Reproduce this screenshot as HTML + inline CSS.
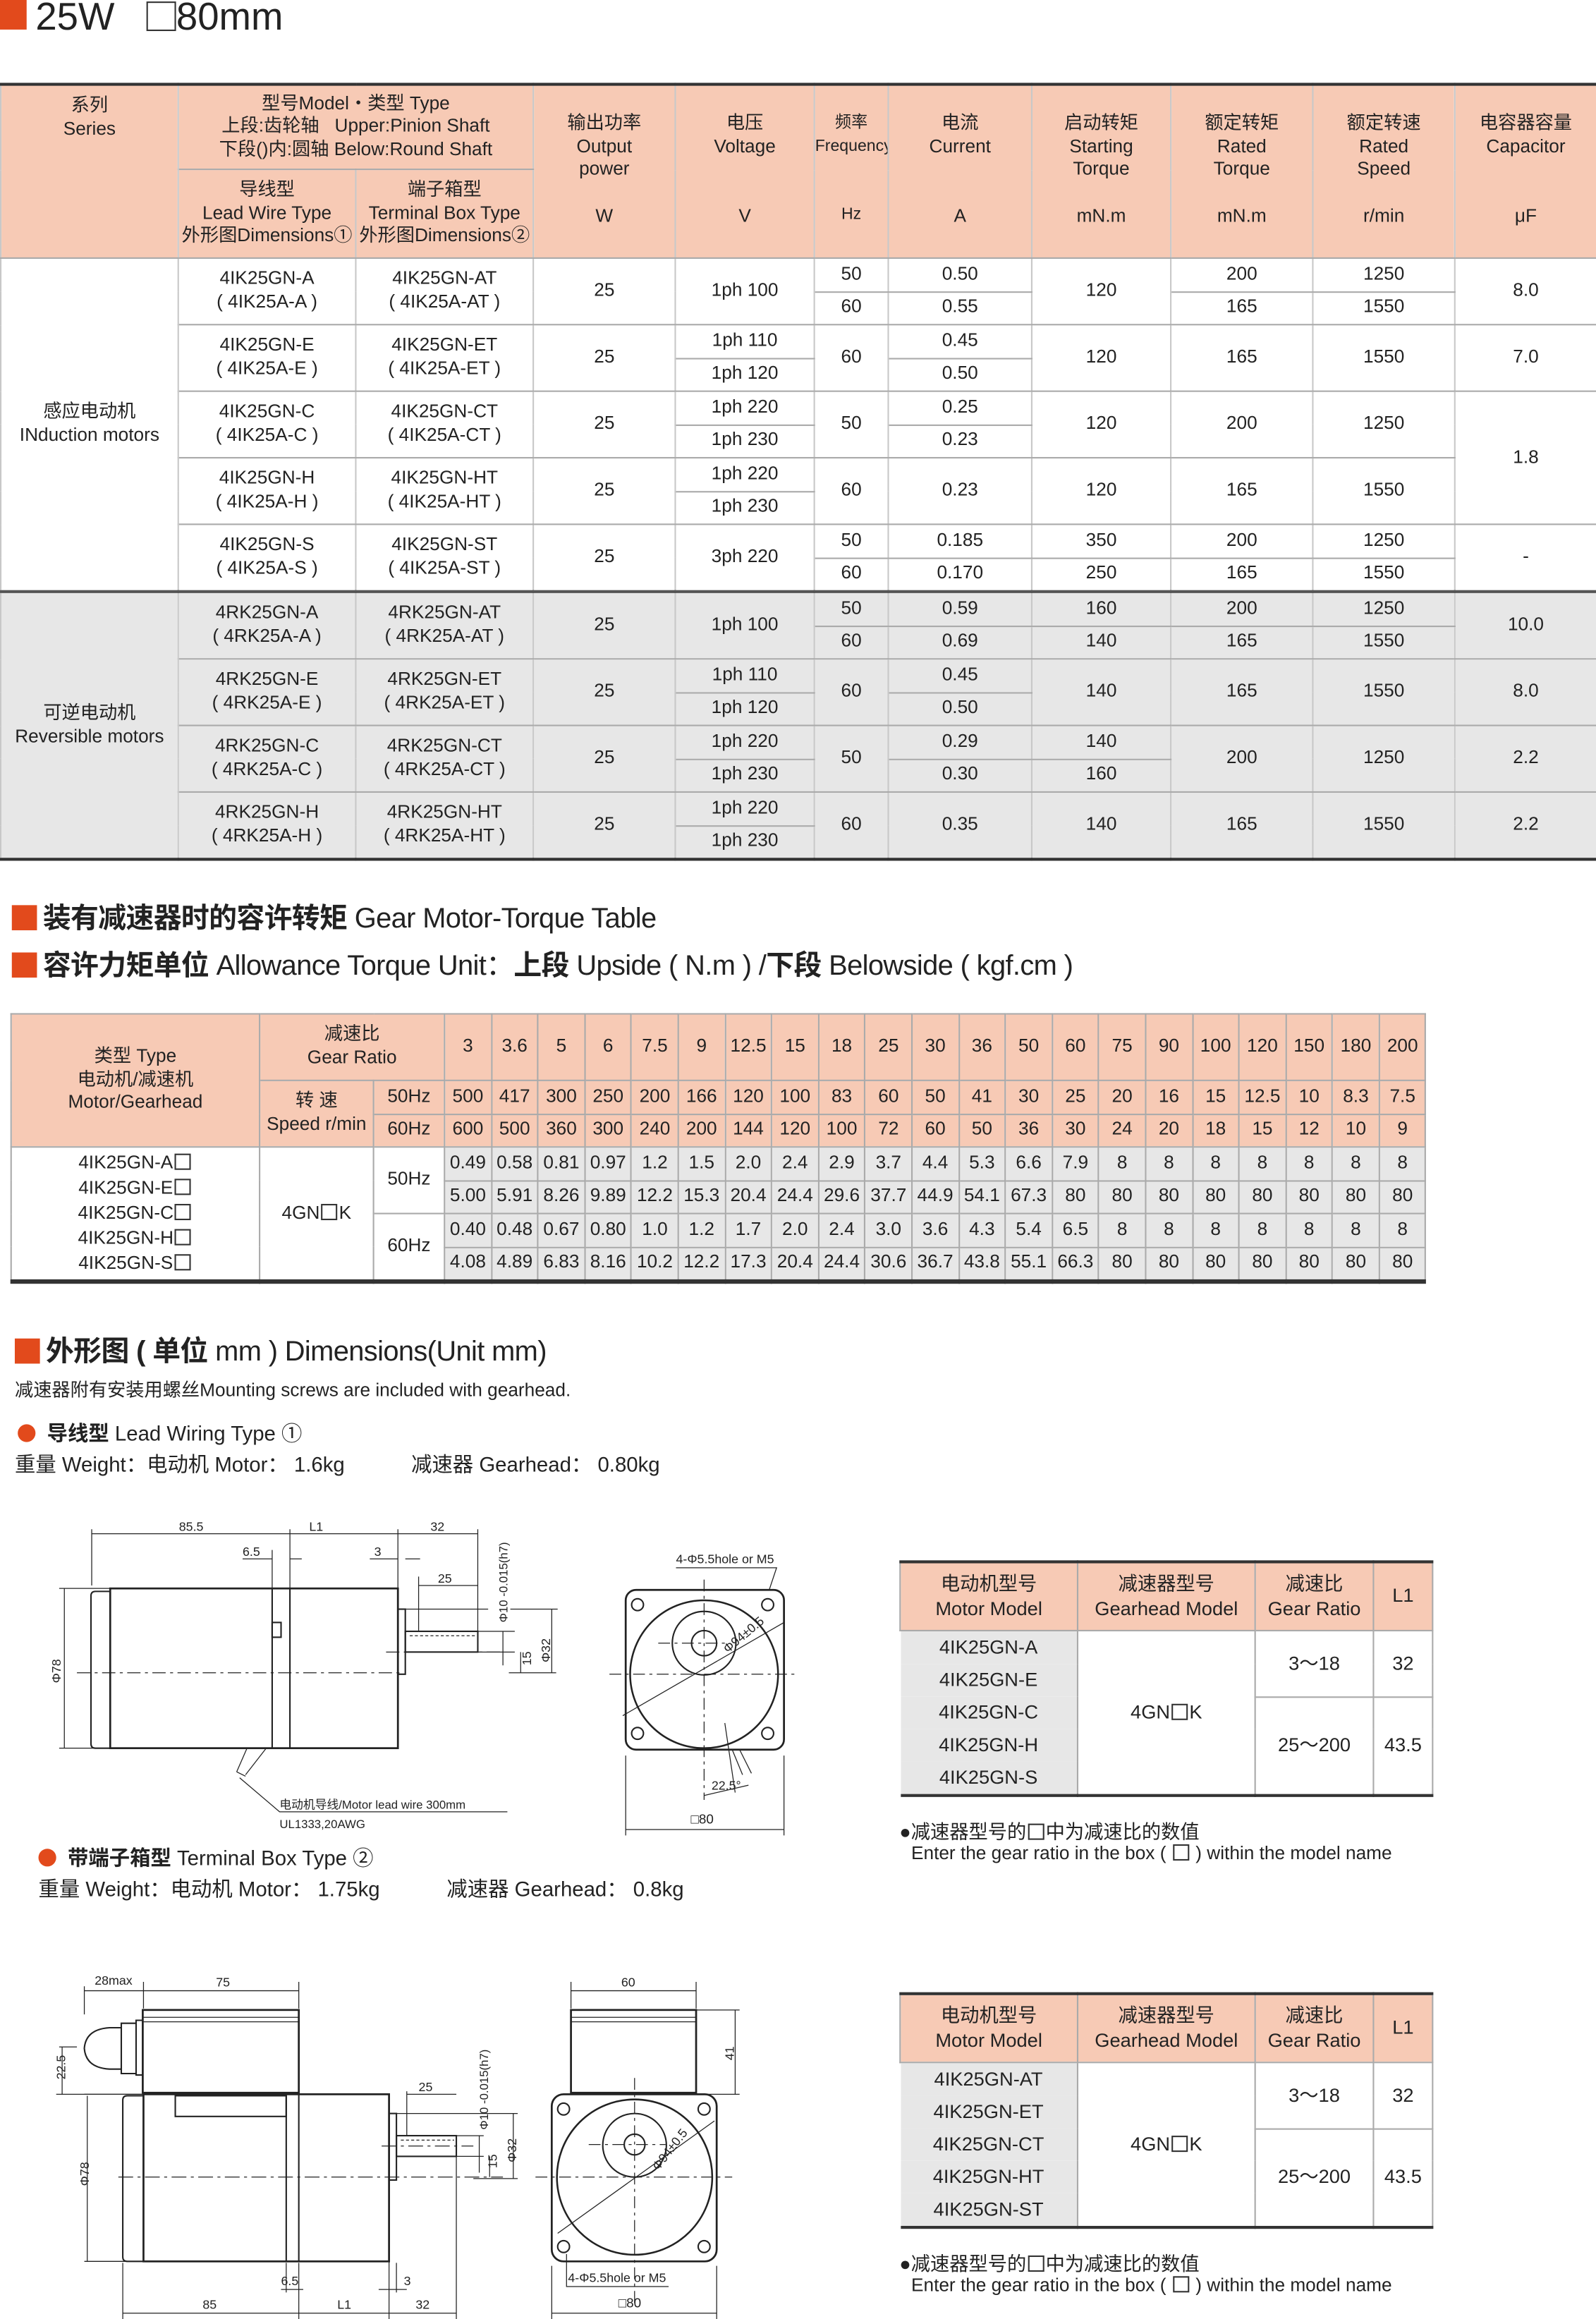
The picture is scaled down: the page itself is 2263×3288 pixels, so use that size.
<!DOCTYPE html>
<html><head><meta charset="utf-8">
<style>
html,body{margin:0;padding:0;background:#fff;}
body{width:2263px;height:3288px;overflow:hidden;position:relative;}
#w{position:absolute;left:0;top:0;width:1079px;height:1568px;transform:scale(2.0974,2.097);transform-origin:0 0;font-family:"Liberation Sans Narrow","Liberation Sans","Noto Sans CJK SC",sans-serif;color:#222;}
.a{position:absolute;white-space:nowrap;}
table{position:absolute;border-collapse:collapse;table-layout:fixed;font-size:12.5px;text-align:center;}
td{border:1px solid #aaa;padding:0;line-height:1.25;overflow:hidden;}
.h{background:#f7cab5;}
.g{background:#e7e7e7;}
#t1{left:0;top:56px;width:1079px;border-top:2px solid #333;border-bottom:2px solid #333;}
#t1 td{border-left:1px solid #c8c8c8;border-right:1px solid #c8c8c8;}
#t1 tr.b td{height:21.5px;}
#t2{left:7px;top:685px;width:956px;border-bottom:3px solid #333;}
#t2 tr.b td{height:21.5px;}
.sq{display:inline-block;width:9px;height:9px;border:1px solid #333;vertical-align:-1px;margin:0 1px;}
.tt{font-size:19px;letter-spacing:-0.3px;}
.or{display:inline-block;width:17px;height:17px;background:#e24a1c;vertical-align:-2px;margin-right:4px;}
svg text{fill:#222;stroke:none;}
</style></head><body><div id="w">
<div class="a" style="left:0;top:0;width:18px;height:20px;background:#e24a1c"></div>
<div class="a" style="left:24px;top:-4px;font-size:26px">25W &nbsp;&nbsp;<span style="display:inline-block;width:18px;height:18px;border:1.5px solid #333;vertical-align:-1px"></span>80mm</div>

<table id="t1">
<col style="width:120px"><col style="width:120px"><col style="width:120px"><col style="width:96px"><col style="width:94px"><col style="width:50px"><col style="width:97px"><col style="width:94px"><col style="width:96px"><col style="width:96px"><col style="width:96px">
<tr class="h"><td rowspan="2" style="vertical-align:top;padding-top:6px">系列<br>Series</td><td colspan="2" style="height:56px">型号Model・类型 Type<br>上段:齿轮轴 &nbsp; Upper:Pinion Shaft<br>下段()内:圆轴 Below:Round Shaft</td>
<td rowspan="2" style="vertical-align:top;padding-top:18px">输出功率<br>Output<br>power<br><br>W</td>
<td rowspan="2" style="vertical-align:top;padding-top:18px">电压<br>Voltage<br><br><br>V</td>
<td rowspan="2" style="vertical-align:top;padding-top:18px;font-size:11px;line-height:15.6px">频率<br>Frequency<br><br><br>Hz</td>
<td rowspan="2" style="vertical-align:top;padding-top:18px">电流<br>Current<br><br><br>A</td>
<td rowspan="2" style="vertical-align:top;padding-top:18px">启动转矩<br>Starting<br>Torque<br><br>mN.m</td>
<td rowspan="2" style="vertical-align:top;padding-top:18px">额定转矩<br>Rated<br>Torque<br><br>mN.m</td>
<td rowspan="2" style="vertical-align:top;padding-top:18px">额定转速<br>Rated<br>Speed<br><br>r/min</td>
<td rowspan="2" style="vertical-align:top;padding-top:18px">电容器容量<br>Capacitor<br><br><br>μF</td></tr>
<tr class="h"><td style="height:59px">导线型<br>Lead Wire Type<br>外形图Dimensions①</td><td>端子箱型<br>Terminal Box Type<br>外形图Dimensions②</td></tr>

<tr class="b"><td rowspan="10">感应电动机<br>INduction motors</td><td rowspan="2">4IK25GN-A<br>( 4IK25A-A )</td><td rowspan="2">4IK25GN-AT<br>( 4IK25A-AT )</td><td rowspan="2">25</td><td rowspan="2">1ph 100</td><td>50</td><td>0.50</td><td rowspan="2">120</td><td>200</td><td>1250</td><td rowspan="2">8.0</td></tr>
<tr class="b"><td>60</td><td>0.55</td><td>165</td><td>1550</td></tr>
<tr class="b"><td rowspan="2">4IK25GN-E<br>( 4IK25A-E )</td><td rowspan="2">4IK25GN-ET<br>( 4IK25A-ET )</td><td rowspan="2">25</td><td>1ph 110</td><td rowspan="2">60</td><td>0.45</td><td rowspan="2">120</td><td rowspan="2">165</td><td rowspan="2">1550</td><td rowspan="2">7.0</td></tr>
<tr class="b"><td>1ph 120</td><td>0.50</td></tr>
<tr class="b"><td rowspan="2">4IK25GN-C<br>( 4IK25A-C )</td><td rowspan="2">4IK25GN-CT<br>( 4IK25A-CT )</td><td rowspan="2">25</td><td>1ph 220</td><td rowspan="2">50</td><td>0.25</td><td rowspan="2">120</td><td rowspan="2">200</td><td rowspan="2">1250</td><td rowspan="4">1.8</td></tr>
<tr class="b"><td>1ph 230</td><td>0.23</td></tr>
<tr class="b"><td rowspan="2">4IK25GN-H<br>( 4IK25A-H )</td><td rowspan="2">4IK25GN-HT<br>( 4IK25A-HT )</td><td rowspan="2">25</td><td>1ph 220</td><td rowspan="2">60</td><td rowspan="2">0.23</td><td rowspan="2">120</td><td rowspan="2">165</td><td rowspan="2">1550</td></tr>
<tr class="b"><td>1ph 230</td></tr>
<tr class="b"><td rowspan="2">4IK25GN-S<br>( 4IK25A-S )</td><td rowspan="2">4IK25GN-ST<br>( 4IK25A-ST )</td><td rowspan="2">25</td><td rowspan="2">3ph 220</td><td>50</td><td>0.185</td><td>350</td><td>200</td><td>1250</td><td rowspan="2">-</td></tr>
<tr class="b"><td>60</td><td>0.170</td><td>250</td><td>165</td><td>1550</td></tr>

<tr class="b g" style="border-top:2px solid #555"><td rowspan="8">可逆电动机<br>Reversible motors</td><td rowspan="2">4RK25GN-A<br>( 4RK25A-A )</td><td rowspan="2">4RK25GN-AT<br>( 4RK25A-AT )</td><td rowspan="2">25</td><td rowspan="2">1ph 100</td><td>50</td><td>0.59</td><td>160</td><td>200</td><td>1250</td><td rowspan="2">10.0</td></tr>
<tr class="b g"><td>60</td><td>0.69</td><td>140</td><td>165</td><td>1550</td></tr>
<tr class="b g"><td rowspan="2">4RK25GN-E<br>( 4RK25A-E )</td><td rowspan="2">4RK25GN-ET<br>( 4RK25A-ET )</td><td rowspan="2">25</td><td>1ph 110</td><td rowspan="2">60</td><td>0.45</td><td rowspan="2">140</td><td rowspan="2">165</td><td rowspan="2">1550</td><td rowspan="2">8.0</td></tr>
<tr class="b g"><td>1ph 120</td><td>0.50</td></tr>
<tr class="b g"><td rowspan="2">4RK25GN-C<br>( 4RK25A-C )</td><td rowspan="2">4RK25GN-CT<br>( 4RK25A-CT )</td><td rowspan="2">25</td><td>1ph 220</td><td rowspan="2">50</td><td>0.29</td><td>140</td><td rowspan="2">200</td><td rowspan="2">1250</td><td rowspan="2">2.2</td></tr>
<tr class="b g"><td>1ph 230</td><td>0.30</td><td>160</td></tr>
<tr class="b g"><td rowspan="2">4RK25GN-H<br>( 4RK25A-H )</td><td rowspan="2">4RK25GN-HT<br>( 4RK25A-HT )</td><td rowspan="2">25</td><td>1ph 220</td><td rowspan="2">60</td><td rowspan="2">0.35</td><td rowspan="2">140</td><td rowspan="2">165</td><td rowspan="2">1550</td><td rowspan="2">2.2</td></tr>
<tr class="b g"><td>1ph 230</td></tr>
</table>

<div class="a tt" style="left:8px;top:606px"><span class="or"></span><b>装有减速器时的容许转矩</b> Gear Motor-Torque Table</div>
<div class="a tt" style="left:8px;top:638px"><span class="or"></span><b>容许力矩单位</b> Allowance Torque Unit：<b>上段</b> Upside ( N.m ) /<b>下段</b> Belowside ( kgf.cm )</div>

<table id="t2">
<col style="width:168px"><col style="width:77px"><col style="width:48px">
<col span="21" style="width:31.6px">
<tr class="h"><td rowspan="3">类型 Type<br>电动机/减速机<br>Motor/Gearhead</td><td colspan="2" style="height:44px">减速比<br>Gear Ratio</td>
<td>3</td><td>3.6</td><td>5</td><td>6</td><td>7.5</td><td>9</td><td>12.5</td><td>15</td><td>18</td><td>25</td><td>30</td><td>36</td><td>50</td><td>60</td><td>75</td><td>90</td><td>100</td><td>120</td><td>150</td><td>180</td><td>200</td></tr>
<tr class="h"><td rowspan="2">转 速<br>Speed r/min</td><td style="height:21.5px">50Hz</td><td>500</td><td>417</td><td>300</td><td>250</td><td>200</td><td>166</td><td>120</td><td>100</td><td>83</td><td>60</td><td>50</td><td>41</td><td>30</td><td>25</td><td>20</td><td>16</td><td>15</td><td>12.5</td><td>10</td><td>8.3</td><td>7.5</td></tr>
<tr class="h"><td style="height:21.5px">60Hz</td><td>600</td><td>500</td><td>360</td><td>300</td><td>240</td><td>200</td><td>144</td><td>120</td><td>100</td><td>72</td><td>60</td><td>50</td><td>36</td><td>30</td><td>24</td><td>20</td><td>18</td><td>15</td><td>12</td><td>10</td><td>9</td></tr>
<tr class="b"><td rowspan="4" style="line-height:17px">4IK25GN-A<span class="sq"></span><br>4IK25GN-E<span class="sq"></span><br>4IK25GN-C<span class="sq"></span><br>4IK25GN-H<span class="sq"></span><br>4IK25GN-S<span class="sq"></span></td><td rowspan="4">4GN<span class="sq"></span>K</td><td rowspan="2">50Hz</td>
<td class="g">0.49</td><td class="g">0.58</td><td class="g">0.81</td><td class="g">0.97</td><td class="g">1.2</td><td class="g">1.5</td><td class="g">2.0</td><td class="g">2.4</td><td class="g">2.9</td><td class="g">3.7</td><td class="g">4.4</td><td class="g">5.3</td><td class="g">6.6</td><td class="g">7.9</td><td class="g">8</td><td class="g">8</td><td class="g">8</td><td class="g">8</td><td class="g">8</td><td class="g">8</td><td class="g">8</td></tr>
<tr class="b g"><td>5.00</td><td>5.91</td><td>8.26</td><td>9.89</td><td>12.2</td><td>15.3</td><td>20.4</td><td>24.4</td><td>29.6</td><td>37.7</td><td>44.9</td><td>54.1</td><td>67.3</td><td>80</td><td>80</td><td>80</td><td>80</td><td>80</td><td>80</td><td>80</td><td>80</td></tr>
<tr class="b"><td rowspan="2" style="background:#fff">60Hz</td><td class="g">0.40</td><td class="g">0.48</td><td class="g">0.67</td><td class="g">0.80</td><td class="g">1.0</td><td class="g">1.2</td><td class="g">1.7</td><td class="g">2.0</td><td class="g">2.4</td><td class="g">3.0</td><td class="g">3.6</td><td class="g">4.3</td><td class="g">5.4</td><td class="g">6.5</td><td class="g">8</td><td class="g">8</td><td class="g">8</td><td class="g">8</td><td class="g">8</td><td class="g">8</td><td class="g">8</td></tr>
<tr class="b g"><td>4.08</td><td>4.89</td><td>6.83</td><td>8.16</td><td>10.2</td><td>12.2</td><td>17.3</td><td>20.4</td><td>24.4</td><td>30.6</td><td>36.7</td><td>43.8</td><td>55.1</td><td>66.3</td><td>80</td><td>80</td><td>80</td><td>80</td><td>80</td><td>80</td><td>80</td></tr>
</table>

<div class="a tt" style="left:10px;top:899px"><span class="or"></span><b>外形图 ( 单位</b> mm ) Dimensions(Unit mm)</div>
<div class="a" style="left:10px;top:929px;font-size:12.5px">减速器附有安装用螺丝Mounting screws are included with gearhead.</div>
<div class="a" style="left:12px;top:959px;font-size:14px"><span style="display:inline-block;width:12px;height:12px;border-radius:50%;background:#e24a1c;vertical-align:-1px"></span>&nbsp; <b>导线型</b> Lead Wiring Type ①</div>
<div class="a" style="left:10px;top:980px;font-size:14px">重量 Weight：电动机 Motor： 1.6kg</div>
<div class="a" style="left:278px;top:980px;font-size:14px">减速器 Gearhead： 0.80kg</div>
<div class="a" style="left:26px;top:1246px;font-size:14px"><span style="display:inline-block;width:12px;height:12px;border-radius:50%;background:#e24a1c;vertical-align:-1px"></span>&nbsp; <b>带端子箱型</b> Terminal Box Type ②</div>
<div class="a" style="left:26px;top:1267px;font-size:14px">重量 Weight：电动机 Motor： 1.75kg</div>
<div class="a" style="left:302px;top:1267px;font-size:14px">减速器 Gearhead： 0.8kg</div>

<svg class="a" style="left:0;top:0" width="1079" height="1568" viewBox="0 0 1079 1568" font-family="Liberation Sans Narrow,Liberation Sans,sans-serif" font-size="8.5" fill="none" stroke="#222" stroke-width="1">
<!-- drawing 1 side view -->
<path d="M74.5 1076 h-10 q-3 0 -3 3 v100 q0 3 3 3 h10"/>
<rect x="74.5" y="1074" width="194.5" height="108" stroke-width="1.3"/>
<line x1="184" y1="1074" x2="184" y2="1182"/>
<line x1="196" y1="1074" x2="196" y2="1182"/>
<rect x="184" y="1097" width="6" height="10"/>
<rect x="269" y="1088" width="5" height="44"/>
<rect x="274" y="1103" width="49" height="14"/>
<path d="M277 1106 H322" stroke-dasharray="2 1.5" stroke-width="0.6"/>
<path d="M52 1131 H272 M261 1117 H340" stroke-dasharray="9 3 2 3" stroke-width="0.6"/>
<g stroke-width="0.6">
<path d="M62 1034 V1072 M196 1034 V1074 M269 1034 V1088 M323 1034 V1103"/>
<path d="M62 1037 H196 M196 1037 H269 M269 1037 H323"/>
<path d="M164 1054 H184 M196 1054 H204 M250 1054 H269 M274 1054 H284 M184 1048 V1074"/>
<path d="M283 1072 H323 M283 1066 V1103"/>
<path d="M40 1074 H74 M40 1182 H74 M43.5 1074 V1182"/>
<path d="M274 1088 H330 M345 1088 H377 M323 1103 H348 M323 1117 H348 M340 1103 V1126 M352 1117 V1131 M344 1131 H376 M373 1088 V1131"/>
<path d="M167 1182 L160 1198 M180 1182 L166 1200 M160 1198 L166 1201 M162 1202 L189 1225 H343"/>
</g>
<text x="121" y="1035">85.5</text><text x="209" y="1035">L1</text><text x="291" y="1035">32</text>
<text x="164" y="1052">6.5</text><text x="253" y="1052">3</text><text x="296" y="1070">25</text>
<text transform="translate(41 1138) rotate(-90)">Φ78</text>
<text transform="translate(343 1097) rotate(-90)" font-size="8">Φ10 -0.015(h7)</text>
<text transform="translate(372 1124) rotate(-90)">Φ32</text>
<text transform="translate(359 1126) rotate(-90)">15</text>
<text x="189" y="1223" font-size="8">电动机导线/Motor lead wire 300mm</text>
<text x="189" y="1236" font-size="8">UL1333,20AWG</text>
<!-- front view 1 -->
<rect x="423" y="1075" width="107" height="108" rx="7" stroke-width="1.3"/>
<circle cx="476" cy="1132" r="50" stroke-width="1.2"/>
<circle cx="476" cy="1111" r="21.5"/>
<circle cx="476" cy="1111" r="8.5"/>
<circle cx="431" cy="1085" r="4"/><circle cx="519" cy="1085" r="4"/><circle cx="431" cy="1172" r="4"/><circle cx="519" cy="1172" r="4"/>
<path d="M412 1132 H540 M476 1068 V1217 M445 1111 H490" stroke-dasharray="8 3 2 3" stroke-width="0.6"/>
<g stroke-width="0.6">
<path d="M421 1160 L530 1097 M457 1060 H525 L520 1075 M495 1183 L502 1200 M500 1183 L508 1199 M490 1165 L497 1212 M476 1214 L506 1207"/>
<path d="M423 1187 V1241 M530 1187 V1241 M423 1237 H530"/>
</g>
<text x="457" y="1057">4-Φ5.5hole or M5</text>
<text transform="translate(492 1118) rotate(-40)">Φ94±0.5</text>
<text x="481" y="1210">22.5°</text>
<text x="467" y="1233" font-size="9">□80</text>

<!-- drawing 2 side -->
<rect x="96.5" y="1359" width="105.5" height="56" stroke-width="1.3"/>
<path d="M96.5 1364 H202 M96.5 1367 H202" stroke-width="0.6"/>
<path d="M96.5 1366 H92 V1403 H96.5 M92 1368 H82 V1402 H92 M82 1371 H74 Q58 1372 57 1385 Q58 1398 74 1399 H82"/>
<path d="M97 1417 h-11 q-3 0 -3 3 v106 q0 3 3 3 h11"/>
<rect x="97" y="1416" width="166" height="113" stroke-width="1.3"/>
<line x1="193.5" y1="1416" x2="193.5" y2="1529"/>
<line x1="202" y1="1416" x2="202" y2="1529"/>
<rect x="118.5" y="1417" width="75" height="14"/>
<rect x="263" y="1429" width="5" height="45"/>
<rect x="268" y="1444" width="40.5" height="14"/>
<path d="M271 1447 H307" stroke-dasharray="2 1.5" stroke-width="0.6"/>
<path d="M80 1472 H340 M258 1451 H320" stroke-width="0.6" stroke-dasharray="10 3 2 3"/>
<g stroke-width="0.6">
<path d="M57 1343 V1362 M97 1340 V1358 M202 1340 V1358 M57 1346 H97 M97 1346 H202"/>
<path d="M83 1530 V1568 M202 1530 V1568 M263 1475 V1568 M308.5 1458 V1568 M83 1564 H202 M202 1564 H263 M263 1564 H308.5"/>
<path d="M193.5 1530 V1550 M190 1548 H205 M268 1530 V1550 M256 1548 H275"/>
<path d="M57 1416 H97 M57 1529 H90 M59 1417 V1529"/>
<path d="M40 1384 H52 M42 1384 V1416 M38 1416 H96"/>
<path d="M275 1414 V1444 M275 1416 H308.5"/>
<path d="M268 1429 H350 M308 1444 H327 M308 1458 H327 M324 1444 V1469 M331 1458 V1472 M320 1473 H350 M347 1429 V1473"/>
</g>
<text x="64" y="1342">28max</text>
<text x="146" y="1343">75</text>
<text x="137" y="1561">85</text>
<text x="228" y="1561">L1</text>
<text x="281" y="1561">32</text>
<text x="190" y="1545">6.5</text>
<text x="273" y="1545">3</text>
<text x="283" y="1414">25</text>
<text transform="translate(60 1478) rotate(-90)">Φ78</text>
<text transform="translate(44 1406) rotate(-90)">22.5</text>
<text transform="translate(330 1440) rotate(-90)" font-size="8">Φ10 -0.015(h7)</text>
<text transform="translate(349 1462) rotate(-90)">Φ32</text>
<text transform="translate(336 1466) rotate(-90)">15</text>
<!-- drawing 2 front -->
<rect x="386" y="1359" width="84.6" height="56" stroke-width="1.3"/>
<path d="M386 1364 H470.6 M386 1367 H470.6" stroke-width="0.6"/>
<rect x="373" y="1416" width="111.5" height="113" rx="8" stroke-width="1.3"/>
<circle cx="429" cy="1472" r="52.5" stroke-width="1.2"/>
<circle cx="429" cy="1450.5" r="21.5"/>
<circle cx="429" cy="1450" r="7"/>
<circle cx="381" cy="1426" r="4"/><circle cx="476" cy="1426" r="4"/><circle cx="381" cy="1519" r="4"/><circle cx="476" cy="1519" r="4"/>
<path d="M362 1472 H495 M429 1405 V1560 M398 1450 H450" stroke-width="0.6" stroke-dasharray="8 3 2 3"/>
<g stroke-width="0.6">
<path d="M377 1510 L483 1434 M386 1340 V1358 M470.6 1340 V1358 M386 1346 H470.6 M470 1359 H500 M470 1416 H500 M497 1359 V1416"/>
<path d="M383 1524 V1546 H452 M373 1532 V1568 M484.5 1532 V1568 M373 1564 H484.5"/>
</g>
<text x="420" y="1343">60</text>
<text transform="translate(496 1393) rotate(-90)">41</text>
<text transform="translate(445 1468) rotate(-52)">Φ94±0.5</text>
<text x="384" y="1543">4-Φ5.5hole or M5</text>
<text x="418" y="1560" font-size="9">□80</text>
</svg>

<table style="left:608px;top:1055px;width:360px;border-top:2px solid #333;border-bottom:2px solid #333;font-size:13px">
<col style="width:120px"><col style="width:120px"><col style="width:80px"><col style="width:40px">
<tr class="h"><td style="height:45px">电动机型号<br>Motor Model</td><td>减速器型号<br>Gearhead Model</td><td>减速比<br>Gear Ratio</td><td>L1</td></tr>
<tr class="g"><td style="height:22px;border:none">4IK25GN-A</td><td rowspan="5" style="background:#fff">4GN<span class="sq"></span>K</td><td rowspan="2" style="background:#fff">3～18</td><td rowspan="2" style="background:#fff">32</td></tr>
<tr class="g"><td style="height:22px;border:none">4IK25GN-E</td></tr>
<tr class="g"><td style="height:22px;border:none">4IK25GN-C</td><td rowspan="3" style="background:#fff">25～200</td><td rowspan="3" style="background:#fff">43.5</td></tr>
<tr class="g"><td style="height:22px;border:none">4IK25GN-H</td></tr>
<tr class="g"><td style="height:22px;border:none">4IK25GN-S</td></tr>
</table>
<div class="a" style="left:608px;top:1228px;font-size:13px">●减速器型号的<span class="sq"></span>中为减速比的数值</div>
<div class="a" style="left:616px;top:1246px;font-size:12.5px">Enter the gear ratio in the box ( <span class="sq"></span> ) within the model name</div>

<table style="left:608px;top:1347px;width:360px;border-top:2px solid #333;border-bottom:2px solid #333;font-size:13px">
<col style="width:120px"><col style="width:120px"><col style="width:80px"><col style="width:40px">
<tr class="h"><td style="height:45px">电动机型号<br>Motor Model</td><td>减速器型号<br>Gearhead Model</td><td>减速比<br>Gear Ratio</td><td>L1</td></tr>
<tr class="g"><td style="height:22px;border:none">4IK25GN-AT</td><td rowspan="5" style="background:#fff">4GN<span class="sq"></span>K</td><td rowspan="2" style="background:#fff">3～18</td><td rowspan="2" style="background:#fff">32</td></tr>
<tr class="g"><td style="height:22px;border:none">4IK25GN-ET</td></tr>
<tr class="g"><td style="height:22px;border:none">4IK25GN-CT</td><td rowspan="3" style="background:#fff">25～200</td><td rowspan="3" style="background:#fff">43.5</td></tr>
<tr class="g"><td style="height:22px;border:none">4IK25GN-HT</td></tr>
<tr class="g"><td style="height:22px;border:none">4IK25GN-ST</td></tr>
</table>
<div class="a" style="left:608px;top:1520px;font-size:13px">●减速器型号的<span class="sq"></span>中为减速比的数值</div>
<div class="a" style="left:616px;top:1538px;font-size:12.5px">Enter the gear ratio in the box ( <span class="sq"></span> ) within the model name</div>
</div></body></html>
